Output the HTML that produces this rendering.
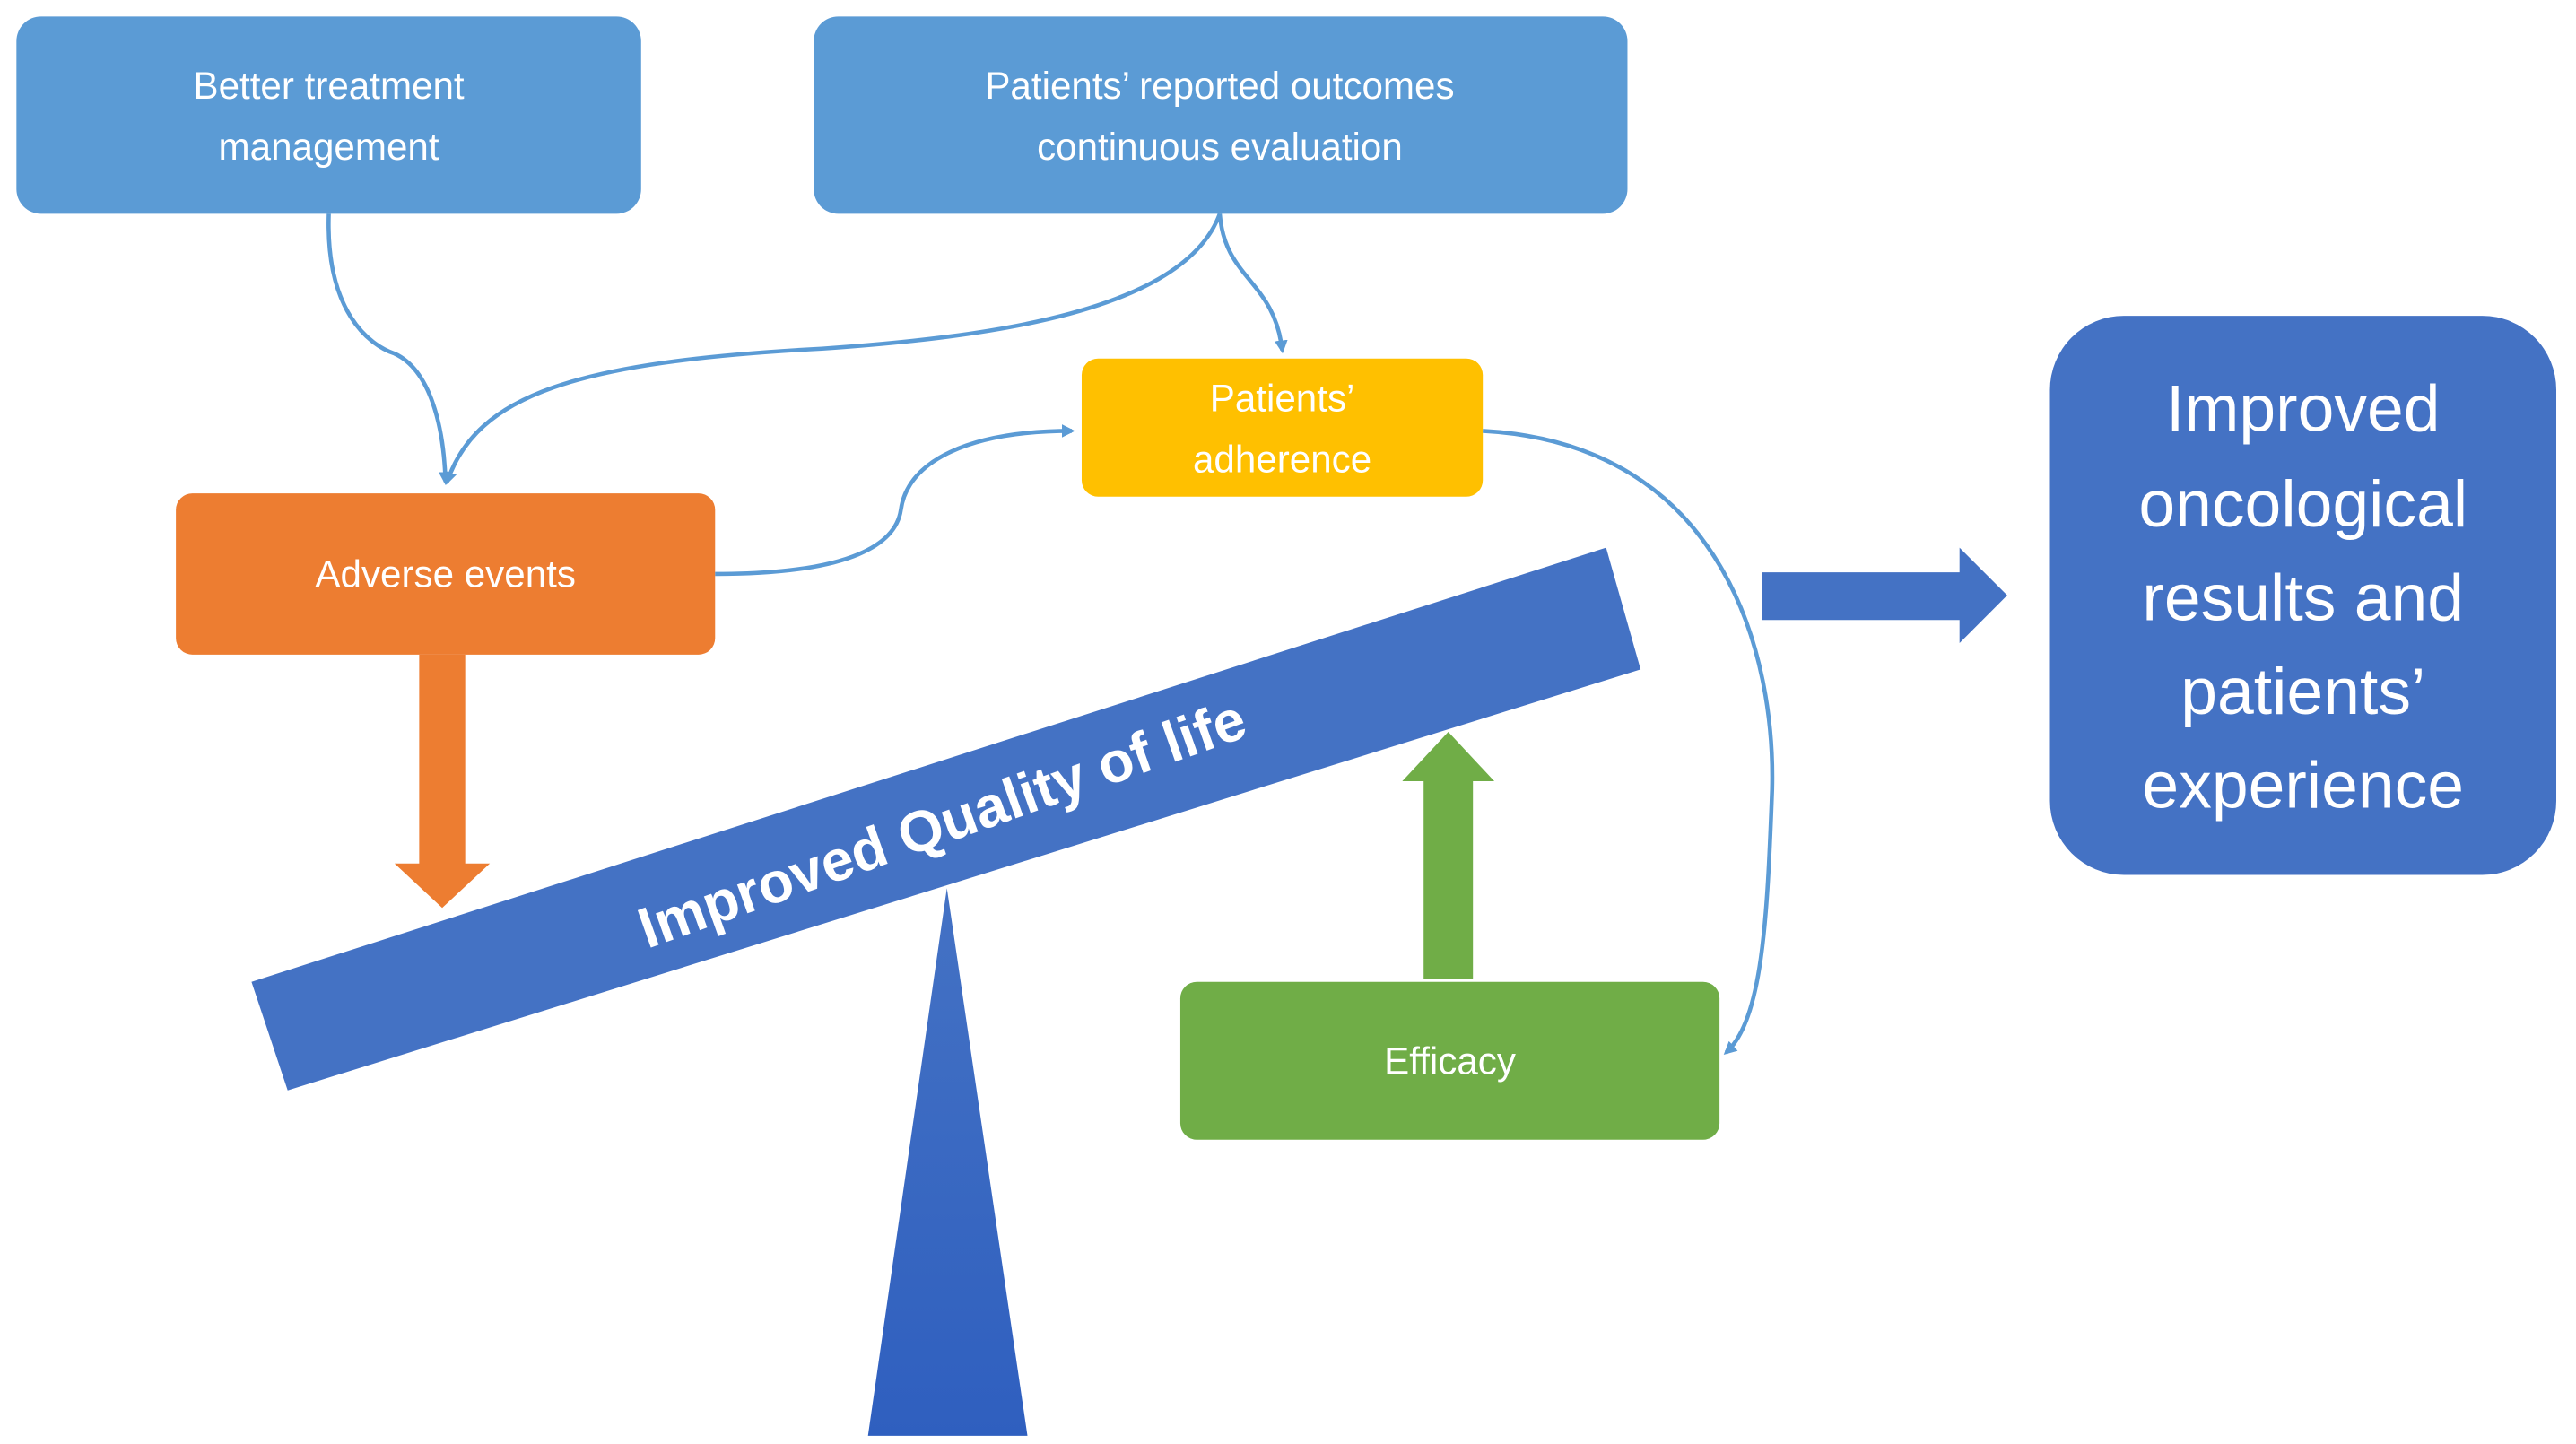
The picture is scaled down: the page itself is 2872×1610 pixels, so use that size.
<!DOCTYPE html>
<html><head><meta charset="utf-8"><style>
html,body{margin:0;padding:0;background:#fff;}
svg{display:block;}
text{font-family:"Liberation Sans",sans-serif;fill:#fff;}
</style></head><body>
<svg width="2872" height="1610" viewBox="0 0 1567 878" preserveAspectRatio="none" xmlns="http://www.w3.org/2000/svg">
<defs>
<linearGradient id="g" x1="0" y1="0" x2="0" y2="1"><stop offset="0" stop-color="#4472c4"/><stop offset="1" stop-color="#2f5fbf"/></linearGradient>
<marker id="a" markerWidth="8" markerHeight="8" refX="6" refY="4" orient="auto" markerUnits="userSpaceOnUse"><path d="M0,0 L8,4 L0,8 z" fill="#5b9bd5"/></marker>
</defs>
<rect x="10" y="10" width="380" height="120" rx="15" fill="#5b9bd5"/>
<text x="200" y="60" font-size="23" text-anchor="middle">Better treatment</text>
<text x="200" y="97" font-size="23" text-anchor="middle">management</text>
<rect x="495" y="10" width="495" height="120" rx="15" fill="#5b9bd5"/>
<text x="742" y="60" font-size="23" text-anchor="middle">Patients’ reported outcomes</text>
<text x="742" y="97" font-size="23" text-anchor="middle">continuous evaluation</text>
<rect x="658" y="218" width="244" height="84" rx="10" fill="#ffc000"/>
<text x="780" y="250" font-size="23" text-anchor="middle">Patients’</text>
<text x="780" y="287" font-size="23" text-anchor="middle">adherence</text>
<rect x="107" y="300" width="328" height="98" rx="10" fill="#ed7d31"/>
<text x="271" y="357" font-size="23" text-anchor="middle">Adverse events</text>
<rect x="718" y="597" width="328" height="96" rx="10" fill="#70ad47"/>
<text x="882" y="653" font-size="23" text-anchor="middle">Efficacy</text>
<rect x="1247" y="192" width="308" height="340" rx="45" fill="#4472c4"/>
<g font-size="40" text-anchor="middle">
<text x="1401" y="262">Improved</text>
<text x="1401" y="320">oncological</text>
<text x="1401" y="377">results and</text>
<text x="1401" y="434">patients’</text>
<text x="1401" y="491">experience</text>
</g>
<polygon points="153,597 977,333 998,407 175,663" fill="#4472c4"/>
<text x="0" y="0" font-size="35" font-weight="bold" text-anchor="middle" transform="translate(577,512) rotate(-19.5)">Improved Quality of life</text>
<polygon points="576,540 528,873 625,873" fill="url(#g)"/>
<polygon points="255,398 283,398 283,525 298,525 269,552 240,525 255,525" fill="#ed7d31"/>
<polygon points="866,595 896,595 896,475 909,475 881,445 853,475 866,475" fill="#70ad47"/>
<polygon points="1072,348 1192,348 1192,333 1221,362 1192,391 1192,377 1072,377" fill="#4472c4"/>
<g fill="none" stroke="#5b9bd5" stroke-width="2.5">
<path d="M200,130 C198,190 225,210 240,215 C262,225 270,260 271,293" marker-end="url(#a)"/>
<path d="M742,130 C720,190 600,205 500,212 C350,220 290,240 272,293" marker-end="url(#a)"/>
<path d="M742,130 C745,170 775,170 780,213" marker-end="url(#a)"/>
<path d="M435,349 C520,349 545,330 548,310 C552,280 590,262 652,262" marker-end="url(#a)"/>
<path d="M902,262 C1050,270 1080,400 1078,480 C1075,560 1072,620 1050,640" marker-end="url(#a)"/>
</g>
</svg>
</body></html>
